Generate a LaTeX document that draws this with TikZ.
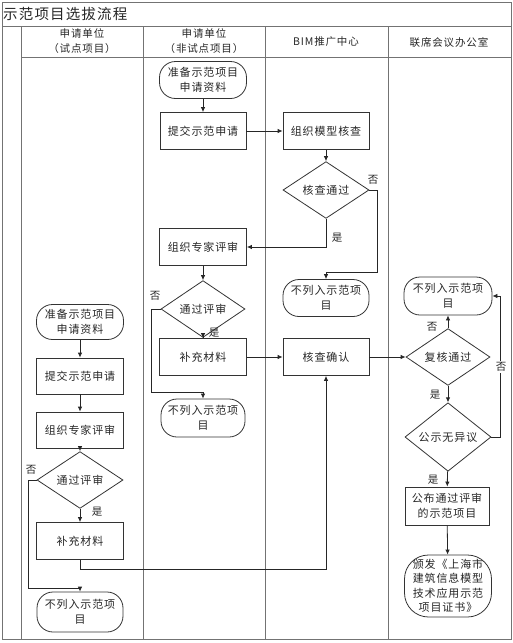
\documentclass[tikz,border=0pt]{standalone}
\usepackage{fontspec}
\setmainfont{Noto Sans CJK SC}[LetterSpace=8]
\usetikzlibrary{shapes.geometric,arrows.meta}
\begin{document}
\begin{tikzpicture}[x=1pt,y=-1pt,
  frame/.style={draw=black!55,line width=1pt},
  shapeline/.style={draw=black!80,line width=0.8pt},
  txt/.style={font=\fontsize{11}{15}\selectfont,text=black!85,align=center,inner sep=0pt},
  proc/.style={shapeline,txt,rectangle,minimum width=86pt,minimum height=37pt},
  term/.style={shapeline,txt,rectangle,rounded corners=16pt,minimum width=86pt,minimum height=37pt},
  dec/.style={shapeline,txt,diamond,minimum width=86pt,minimum height=37pt},
  arr/.style={draw=black!85,line width=0.8pt,-{Latex[length=5pt,width=4.5pt]}},
  lbl/.style={font=\fontsize{10.5}{12}\selectfont,text=black!85,inner sep=1pt},
  head/.style={font=\fontsize{10.5}{15}\selectfont,text=black!85,align=center,inner sep=0pt}]
\useasboundingbox (0,0) rectangle (513,643);
% frame and lanes
\draw[frame] (2,2) rectangle (511,639);
\draw[frame] (2,26) -- (511,26);
\draw[frame] (21,26) -- (21,639);
\draw[frame] (21,57) -- (511,57);
\draw[frame] (143,26) -- (143,639);
\draw[frame] (265,26) -- (265,639);
\draw[frame] (388,26) -- (388,639);
\node[anchor=west,font=\fontsize{14.5}{18}\selectfont,text=black!85,inner sep=0pt] (title) at (3,14) {示范项目选拔流程};
\node[head] (h1) at (82,41) {申请单位\\（试点项目）};
\node[head] (h2) at (204,41) {申请单位\\（非试点项目）};
\node[head] (h3) at (326,42) {BIM推广中心};
\node[head] (h4) at (449,42) {联席会议办公室};
% column 2 / 3
\node[term,minimum width=87pt] (s2) at (203,80) {准备示范项目\\申请资料};
\node[proc] (p2a) at (203,131) {提交示范申请};
\node[proc] (p3a) at (326,131) {组织模型核查};
\node[dec,minimum height=45pt] (d3) at (326,190) {核查通过};
\node[proc,minimum width=87pt] (p2b) at (203,247) {组织专家评审};
\node[term] (t3) at (326,298) {不列入示范项\\目};
\node[dec,minimum width=84pt,minimum height=35pt] (d2) at (203,309) {通过评审};
\node[proc,minimum width=87pt] (p2c) at (203,357) {补充材料};
\node[proc] (p3b) at (326,357) {核查确认};
\node[term,minimum width=84pt,minimum height=38pt] (t2) at (203,418) {不列入示范项\\目};
% column 4
\node[term,minimum width=88pt,minimum height=38pt] (t4) at (448,296) {不列入示范项\\目};
\node[dec,minimum width=84pt,minimum height=38pt] (d4a) at (448,357) {复核通过};
\node[dec,minimum width=86pt,minimum height=36pt] (d4b) at (448,437) {公示无异议};
\node[proc,minimum width=84pt,minimum height=38pt] (p4) at (447,506) {公布通过评审\\的示范项目};
\node[term,minimum width=87pt,minimum height=62pt,rounded corners=24pt,font=\fontsize{11}{14.5}\selectfont] (t4b) at (448,586) {颁发《上海市\\建筑信息模型\\技术应用示范\\项目证书》};
% column 1
\node[term,minimum width=87pt,minimum height=35pt] (s1) at (80,322) {准备示范项目\\申请资料};
\node[proc,minimum width=87pt,minimum height=36pt] (p1a) at (80,376) {提交示范申请};
\node[proc,minimum width=87pt,minimum height=36pt] (p1b) at (80,430) {组织专家评审};
\node[dec,minimum height=36pt] (d1) at (80,480) {通过评审};
\node[proc,minimum width=87pt] (p1c) at (80,541) {补充材料};
\node[term,minimum height=40pt] (t1) at (80,612) {不列入示范项\\目};
% helper coordinates
\coordinate (c1) at (377,272);
\coordinate (c2) at (151,392);
\coordinate (c3) at (500,296);
\coordinate (c4) at (28,588);
\coordinate (c5) at (326,569);
% connectors col2/3
\draw[arr] (s2) -- (p2a);
\draw[arr] (p2a) -- (p3a);
\draw[arr] (p3a) -- (d3);
\draw[arr] (d3.east) -| (c1) -| (t3.north);
\draw[arr] (d3.south) |- (p2b.east);
\draw[arr] (p2b) -- (d2);
\draw[arr] (d2.west) -| (c2) -| (t2.north);
\draw[arr] (d2) -- (p2c);
\draw[arr] (p2c) -- (p3b);
\draw[arr] (p3b) -- (d4a);
% col4
\draw[arr] (d4a) -- (t4);
\draw[arr] (d4a) -- (d4b);
\draw[arr] (d4b.east) -| (c3) -- (t4.east);
\draw[arr] (d4b) -- (p4);
\draw[arr] (p4) -- (t4b);
% col1
\draw[arr] (s1) -- (p1a);
\draw[arr] (p1a) -- (p1b);
\draw[arr] (p1b) -- (d1);
\draw[arr] (d1.west) -| (c4) -| (t1.north);
\draw[arr] (d1) -- (p1c);
\draw[arr] (p1c.south) |- (c5) -- (p3b.south);
% labels
\node[lbl] (n1) at (373,180) {否};
\node[lbl] (y1) at (337,238) {是};
\node[lbl] (n2) at (155,296) {否};
\node[lbl] (y2) at (214,333) {是};
\node[lbl] (n3) at (432,327) {否};
\node[lbl] (y3) at (435,395) {是};
\node[lbl,fill=white] (n4) at (501,367) {否};
\node[lbl] (y4) at (433,480) {是};
\node[lbl] (n5) at (31,470) {否};
\node[lbl] (y5) at (97,512) {是};
\end{tikzpicture}
\end{document}
